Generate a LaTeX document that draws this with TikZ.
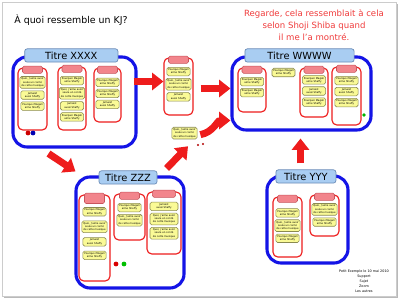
\documentclass[tikz,border=0pt]{standalone}
\usepackage{fontspec}
\setmainfont{DejaVu Sans}
\usetikzlibrary{positioning, arrows.meta, calc, fit}
\definecolor{kjblue}{HTML}{1414E6}
\definecolor{kjred}{HTML}{EE1C1C}
\definecolor{headfill}{HTML}{A9CDF2}
\definecolor{headstroke}{HTML}{6A8CB8}
\definecolor{tabfill}{HTML}{F2858C}
\definecolor{tabstroke}{HTML}{C8545C}
\definecolor{cardfill}{HTML}{FAFA96}
\definecolor{cardstroke}{HTML}{8A8A50}
\definecolor{notered}{HTML}{F03C3C}

\newcommand{\pq}{Pourquoi Magali\\aime Shaffy}
\newcommand{\qj}{Quoi, j'aime avoir\\seule un conté\\de cette musique}
\newcommand{\ja}{Jamaist\\aussi Shaffy}

\begin{document}
\begin{tikzpicture}[
  x=0.25mm, y=-0.25mm,
  >={Triangle[length=8pt, width=12pt]},
  group/.style={
    draw=kjblue, line width=2.2pt, fill=white,
    rounded corners=3.5mm, inner sep=0pt
  },
  header/.style={
    draw=headstroke, line width=0.5pt, fill=headfill,
    rounded corners=0.6mm, inner sep=0pt, minimum height=3.3mm,
    font=\fontsize{7}{8.5}\selectfont
  },
  column/.style={
    draw=kjred, line width=0.8pt, fill=white,
    rounded corners=1.2mm, inner sep=0pt
  },
  tab/.style={
    draw=tabstroke, line width=0.4pt, fill=tabfill,
    rounded corners=0.4mm, inner sep=0pt,
    minimum width=5mm, minimum height=1.8mm
  },
  card/.style={
    draw=cardstroke, line width=0.4pt, fill=cardfill,
    rounded corners=0.4mm, inner sep=0.35mm,
    minimum width=5.8mm, align=center,
    font=\fontsize{1.8}{2.3}\selectfont
  },
  dot/.style={circle, inner sep=0pt, minimum size=1.2mm},
  bigarrow/.style={->, line width=5pt, draw=kjred},
  node distance=0.5mm
]

% page frame
\useasboundingbox (0,0) rectangle (400,300);
\fill[gray!55] (4,4) rectangle (398,298);
\filldraw[fill=white, draw=gray!40] (2,2) rectangle (396,296);

\node[font=\fontsize{6.7}{8}\selectfont] (title) at (71,20) {À quoi ressemble un KJ?};
\node[text=notered, align=center, font=\fontsize{6.1}{8.3}\selectfont] (note) at (314,25)
  {Regarde, cela ressemblait à cela\\selon Shoji Shiba quand\\il me l'a montré.};

% groups
\node[group, fit={(13,57) (136,147)}] (xxxx) {};
\node[group, fit={(232,57) (371,130)}] (wwww) {};
\node[group, fit={(76,177) (184,288)}] (zzz) {};
\node[group, fit={(267,176) (348,263)}] (yyy) {};

\node[header, minimum width=23.3mm] (tx) at ([xshift=-0.8mm]xxxx.north) {Titre XXXX};
\node[header, minimum width=27.3mm] (tw) at ([xshift=-0.5mm]wwww.north) {Titre WWWW};
\node[header, minimum width=14.5mm] (tz) at ([shift={(-0.5mm,-0.5mm)}]zzz.north) {Titre ZZZ};
\node[header, minimum width=15mm] (ty) at ([shift={(-0.4mm,-0.5mm)}]yyy.north) {Titre YYY};

% group XXXX
\node[column, fit={(18,68) (47,130)}] (x1) {};
\node[tab, below=-0.4mm of x1.north] (x1t) {};
\node[card, below=2.2mm of x1.north] (x1a) {\qj};
\node[card, below=of x1a] (x1b) {\ja};
\node[card, below=of x1b] (x1c) {\pq};

\node[column, fit={(58,67) (86,130)}] (x2) {};
\node[tab, below=-0.4mm of x2.north] (x2t) {};
\node[card, below=2.4mm of x2.north] (x2a) {\pq};
\node[card, below=of x2a] (x2b) {\qj};
\node[card, below=of x2b] (x2c) {\ja};
\node[card, below=of x2c] (x2d) {\pq};

\node[column, fit={(94,68) (121,122)}] (x3) {};
\node[tab, below=-0.4mm of x3.north] (x3t) {};
\node[card, below=2.6mm of x3.north] (x3a) {\pq};
\node[card, below=of x3a] (x3b) {\pq};
\node[card, below=of x3b] (x3c) {\ja};

\node[dot, fill=red!80!black] (xd1) at (28,133) {};
\node[dot, fill=blue!70!black] (xd2) at (33,133) {};

% loose column and card
\node[column, fit={(164,58) (193,115)}] (f1) {};
\node[tab, below=-0.4mm of f1.north] (f1t) {};
\node[card, below=2.4mm of f1.north] (f1a) {\pq};
\node[card, below=of f1a] (f1b) {\qj};
\node[card, below=of f1b] (f1c) {\ja};

\node[card, anchor=north] (fc) at (184.5,127) {\qj};
\node[dot, minimum size=0.6mm, fill=red!70!black] (fd1) at (198,145) {};
\node[dot, minimum size=0.6mm, fill=red!70!black] (fd2) at (203,144) {};

% group WWWW
\node[column, fit={(238,68) (266,112)}] (w1) {};
\node[tab, below=-0.4mm of w1.north] (w1t) {};
\node[card, below=2.4mm of w1.north] (w1a) {\pq};
\node[card, below=of w1a] (w1b) {\pq};

\node[card, minimum width=5.2mm, anchor=north] (wfc) at (283.5,68) {\pq};

\node[column, fit={(300,68) (328,117)}] (w2) {};
\node[tab, below=-0.4mm of w2.north] (w2t) {};
\node[card, below=2mm of w2.north] (w2a) {\pq};
\node[card, below=of w2a] (w2b) {\ja};
\node[card, below=of w2b] (w2c) {\pq};

\node[column, fit={(332,67) (361,125)}] (w3) {};
\node[tab, below=-0.4mm of w3.north] (w3t) {};
\node[card, below=2.4mm of w3.north] (w3a) {\pq};
\node[card, below=of w3a] (w3b) {\ja};
\node[card, below=of w3b] (w3c) {\pq};

\node[dot, minimum size=0.9mm, fill=green!70!black] (wd1) at (364,115) {};

% group ZZZ
\node[column, fit={(79,195) (110,281)}] (z1) {};
\node[tab, minimum height=2.6mm, below=-0.4mm of z1.north] (z1t) {};
\node[card, below=3.2mm of z1.north] (z1a) {\pq};
\node[card, below=1.1mm of z1a] (z1b) {\qj};
\node[card, below=1.1mm of z1b] (z1c) {\ja};
\node[card, below=1.1mm of z1c] (z1d) {\pq};

\node[column, fit={(114,194) (145,240)}] (z2) {};
\node[tab, below=-0.4mm of z2.north] (z2t) {};
\node[card, below=2.4mm of z2.north] (z2a) {\pq};
\node[card, below=of z2a] (z2b) {\qj};

\node[column, fit={(147,192) (181,254)}] (z3) {};
\node[tab, minimum width=5.8mm, below=-0.4mm of z3.north] (z3t) {};
\node[card, minimum width=7mm, below=2.6mm of z3.north] (z3a) {\ja};
\node[card, minimum width=7mm, below=of z3a] (z3b) {\qj};
\node[card, minimum width=7mm, below=of z3b] (z3c) {\qj};

\node[dot, fill=red!85!black] (zd1) at (116,264) {};
\node[dot, fill=green!75!black] (zd2) at (124,264) {};

% group YYY
\node[column, fit={(273,197) (302,257)}] (y1) {};
\node[tab, below=-0.4mm of y1.north] (y1t) {};
\node[card, below=3mm of y1.north] (y1a) {\pq};
\node[card, below=of y1a] (y1b) {\qj};
\node[card, below=of y1b] (y1c) {\pq};

\node[column, fit={(310,195) (339,236)}] (y2) {};
\node[tab, below=-0.4mm of y2.north] (y2t) {};
\node[card, below=2.2mm of y2.north] (y2a) {\qj};
\node[card, below=of y2a] (y2b) {\pq};

\node[align=center, font=\fontsize{2.4}{3.5}\selectfont] (footer) at (364,281)
  {Petit Exemple le 10 mai 2010\\Support\\Sujet\\Zoom\\Les autres};

% arrows
\draw[bigarrow] ($(xxxx.east |- f1.west)+(-4,-5)$) -- ($(f1.west)+(0,-5)$);
\draw[bigarrow] ($(f1.east |- wwww.west)+(7,-5)$) -- ($(wwww.west)+(0,-5)$);
\draw[bigarrow] ($(xxxx.south)+(-26,5)$) -- ($(zzz.north west)+(1,-4)$);
\draw[bigarrow] ($(zzz.north east)+(-19,-7)$) -- ($(fc.south)+(3.5,7)$);
\draw[bigarrow] ($(fc.east)+(3,1.5)$) to[out=10, in=180] ($(wwww.west)+(0,27)$);
\draw[bigarrow] ($(ty.north -| wwww.south)+(-1,-6)$) -- ($(wwww.south)+(-1,7)$);

\end{tikzpicture}
\end{document}
